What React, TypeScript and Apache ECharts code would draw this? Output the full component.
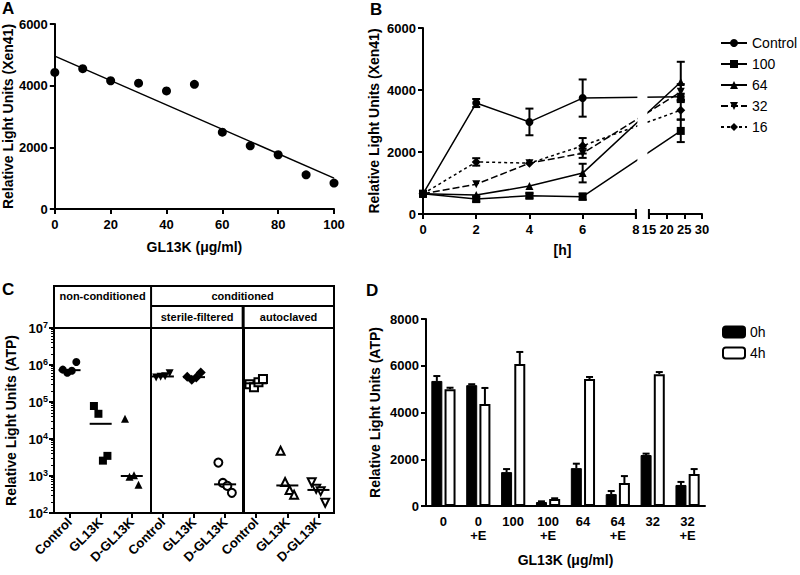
import React, { useEffect, useRef } from "react";
import * as echarts from "echarts";

// ---------- DATA ----------
// Panel A
const A_DOSE = [0, 10, 20, 30, 40, 50, 60, 70, 80, 90, 100];
const A_RLU = [4430, 4550, 4160, 4080, 3830, 4045, 2490, 2050, 1760, 1110, 840];
const A_FIT = [[0, 4960], [100, 1000]];

// Panel B
const B_TIMES = [0, 2, 4, 6, 24];
const B_NAMES = ["Control", "100", "64", "32", "16"];
const B_CONTROL = [650, 3580, 2970, 3740, 3780];
const B_CONTROL_ERR = [0, 130, 430, 600, 100];
const B_100 = [650, 480, 590, 560, 2680];
const B_100_ERR = [0, 80, 80, 100, 360];
const B_64 = [650, 610, 900, 1320, 4260];
const B_64_ERR = [0, 0, 0, 300, 650];
const B_32 = [650, 960, 1640, 1960, 3940];
const B_32_ERR = [0, 0, 0, 150, 250];
const B_16 = [650, 1680, 1640, 2200, 3350];
const B_16_ERR = [0, 120, 0, 250, 300];
const B_TICKS_LEFT = [0, 2, 4, 6, 8];
const B_TICKS_RIGHT = [15, 20, 25, 30];

// Panel C
const C_CATS = ["Control", "GL13K", "D-GL13K", "Control", "GL13K", "D-GL13K", "Control", "GL13K", "D-GL13K"];
const C_NONCOND_CONTROL = [750000, 620000, 700000, 1200000];
const C_NONCOND_GL13K = [78000, 48000, 2600, 3500];
const C_NONCOND_DGL13K = [35000, 950, 1050, 580];
const C_STERILE_CONTROL = [460000, 480000, 500000, 600000];
const C_STERILE_GL13K = [480000, 400000, 460000, 630000];
const C_STERILE_DGL13K = [2300, 650, 540, 350];
const C_AUTO_CONTROL = [300000, 250000, 340000, 420000];
const C_AUTO_GL13K = [4800, 690, 420, 310];
const C_AUTO_DGL13K = [680, 450, 390, 190];
const C_HEADER_TOP = ["non-conditioned", "conditioned"];
const C_HEADER_SUB = ["sterile-filtered", "autoclaved"];

// Panel D
const D_CATS = ["0", "0\n+E", "100", "100\n+E", "64", "64\n+E", "32", "32\n+E"];
const D_0H = [5350, 5170, 1450, 170, 1620, 510, 2180, 900];
const D_0H_ERR = [210, 40, 130, 30, 190, 130, 60, 130];
const D_4H = [5000, 4360, 6070, 300, 5430, 980, 5640, 1370];
const D_4H_ERR = [60, 690, 520, 30, 90, 300, 90, 210];

// ---------- LAYOUT ----------
const FONT = "'Liberation Sans', Arial, Helvetica, sans-serif";
const GA = { left: 54, top: 24, width: 280, height: 185 };
const GB = { left: 423, top: 28, width: 279, height: 186 };
const GC = { left: 54, top: 328, width: 280, height: 185 };
const GD = { left: 426, top: 319, width: 279, height: 187 };

// broken time axis for panel B
const B_GAP = 0.49;
const B_RATIO = 0.133;
const tx = (t: number) => (t <= 8 ? t : 8 + B_GAP + (t - 15) * B_RATIO);
const B_MAX = tx(30);
const B_UNIT = GB.width / B_MAX;

// panel C separators (in category units from left edge)
const C_SEP = [3.12, 6.08];
const C_CW = GC.width / 9;
const C_HEAD_TOP = 286;
const C_HEAD_MID = 306;

const BAR_W = 11;
const BAR_OFF = (BAR_W * 1.2) / 2;

const plain = (v: number) => String(v);
const axisLineStyle = { lineStyle: { color: "#000", width: 2 } };
const axisTickStyle = { length: 5, lineStyle: { color: "#000", width: 2 } };
const labelStyle = { color: "#000", fontWeight: "bold" as const, fontSize: 13, fontFamily: FONT };
const nameStyle = { color: "#000", fontWeight: "bold" as const, fontSize: 14, fontFamily: FONT };

function median(arr: number[]) {
  const s = [...arr].sort((a, b) => a - b);
  const n = s.length;
  return n % 2 ? s[(n - 1) / 2] : (s[n / 2 - 1] + s[n / 2]) / 2;
}

function buildOption() {
  const bSeriesVals = [B_CONTROL, B_100, B_64, B_32, B_16];
  const bErrs = [B_CONTROL_ERR, B_100_ERR, B_64_ERR, B_32_ERR, B_16_ERR];
  const bSymbols = ["circle", "rect", "triangle", "triangle", "diamond"];
  const bRot = [0, 0, 0, 180, 0];
  const bSize = [8, 8, 8, 8, 9];
  const bDash: any[] = ["solid", "solid", "solid", [7, 3], [3, 3]];

  const bLines = B_NAMES.map((name, k) => ({
    name,
    type: "line",
    xAxisIndex: 1,
    yAxisIndex: 1,
    data: B_TIMES.map((t, i) => [tx(t), bSeriesVals[k][i]]),
    symbol: bSymbols[k],
    symbolRotate: bRot[k],
    symbolSize: bSize[k],
    showAllSymbol: true,
    itemStyle: { color: "#000", opacity: 1 },
    lineStyle: { color: "#000", width: 1.5, type: bDash[k] },
    z: 3,
  }));

  const bErrData: number[][] = [];
  bSeriesVals.forEach((vals, k) =>
    vals.forEach((v, i) => {
      if (bErrs[k][i] > 0) bErrData.push([tx(B_TIMES[i]), v, bErrs[k][i]]);
    })
  );

  const cGroups = [
    C_NONCOND_CONTROL, C_NONCOND_GL13K, C_NONCOND_DGL13K,
    C_STERILE_CONTROL, C_STERILE_GL13K, C_STERILE_DGL13K,
    C_AUTO_CONTROL, C_AUTO_GL13K, C_AUTO_DGL13K,
  ];
  const cSym = ["circle", "rect", "triangle", "triangle", "diamond", "circle", "rect", "triangle", "triangle"];
  const cRot = [0, 0, 0, 180, 0, 0, 0, 0, 180];
  const cOpen = [false, false, false, false, false, true, true, true, true];

  const cSeries = cGroups.map((vals, g) => ({
    type: "scatter",
    xAxisIndex: 4,
    yAxisIndex: 4,
    symbol: cSym[g],
    symbolRotate: cRot[g],
    symbolSize: cSym[g] === "diamond" ? 10 : 8,
    itemStyle: cOpen[g]
      ? { color: "#fff", borderColor: "#000", borderWidth: 2, opacity: 1 }
      : { color: "#000", opacity: 1 },
    data: vals.map((v, j) => ({
      value: [g + 0.5, v],
      symbolOffset: [(j - (vals.length - 1) / 2) * 4.5, 0],
    })),
    z: 3,
  }));

  const cMedian = {
    type: "scatter",
    xAxisIndex: 4,
    yAxisIndex: 4,
    symbol: "rect",
    symbolSize: [22, 2],
    itemStyle: { color: "#000", opacity: 1 },
    data: cGroups.map((vals, g) => [g + 0.5, median(vals)]),
    z: 4,
    markLine: {
      silent: true,
      symbol: "none",
      label: { show: false },
      data: [
        { xAxis: C_SEP[0], lineStyle: { color: "#000", width: 2, type: "solid" } },
        { xAxis: C_SEP[1], lineStyle: { color: "#000", width: 3, type: "solid" } },
      ],
    },
  };

  const sep1 = GC.left + C_SEP[0] * C_CW;
  const sep2 = GC.left + C_SEP[1] * C_CW;
  const cRight = GC.left + GC.width;
  const hStroke = { stroke: "#000", lineWidth: 2, fill: "none" };
  const hText = (text: string, x: number, y: number) => ({
    type: "text",
    x,
    y,
    style: {
      text,
      fontSize: 11,
      fontWeight: "bold",
      fontFamily: FONT,
      fill: "#000",
      align: "center",
      verticalAlign: "middle",
    },
  });
  const letter = (text: string, x: number, y: number) => ({
    type: "text",
    x,
    y,
    style: { text, fontSize: 17, fontWeight: "bold", fontFamily: FONT, fill: "#000" },
  });

  return {
    animation: false,
    backgroundColor: "#fff",
    textStyle: { fontFamily: FONT },
    grid: [
      { ...GA },
      { ...GB },
      { left: GB.left, top: GB.top, height: GB.height, width: tx(8) * B_UNIT },
      { left: GB.left + tx(15) * B_UNIT, top: GB.top, height: GB.height, width: (tx(30) - tx(15)) * B_UNIT },
      { ...GC, show: true, borderColor: "#000", borderWidth: 2, backgroundColor: "transparent" },
      { ...GD },
    ],
    xAxis: [
      {
        gridIndex: 0, type: "value", min: 0, max: 100, interval: 20,
        axisLine: axisLineStyle, axisTick: axisTickStyle, axisLabel: { ...labelStyle, margin: 9, formatter: plain },
        splitLine: { show: false },
        name: "GL13K (μg/ml)", nameLocation: "middle", nameGap: 31, nameTextStyle: nameStyle,
      },
      {
        gridIndex: 1, type: "value", min: 0, max: B_MAX,
        axisLine: { show: false }, axisTick: { show: false }, axisLabel: { show: false },
        splitLine: { show: false },
        name: "[h]", nameLocation: "middle", nameGap: 29, nameTextStyle: nameStyle,
      },
      {
        gridIndex: 2, type: "value", min: 0, max: 8, interval: 2,
        axisLine: axisLineStyle, axisTick: axisTickStyle, axisLabel: { ...labelStyle, margin: 9, customValues: B_TICKS_LEFT, formatter: plain },
        splitLine: { show: false },
      },
      {
        gridIndex: 3, type: "value", min: 15, max: 30, interval: 5,
        axisLine: axisLineStyle, axisTick: axisTickStyle, axisLabel: { ...labelStyle, margin: 9, customValues: B_TICKS_RIGHT, formatter: plain },
        splitLine: { show: false },
      },
      {
        gridIndex: 4, type: "value", min: 0, max: 9,
        axisLine: axisLineStyle,
        axisTick: { ...axisTickStyle, customValues: C_CATS.map((_, i) => i + 0.5) },
        axisLabel: {
          ...labelStyle, rotate: 45, margin: 7,
          customValues: C_CATS.map((_, i) => i + 0.5),
          formatter: (v: number) => C_CATS[Math.round(v - 0.5)] ?? "",
        },
        splitLine: { show: false },
      },
      {
        gridIndex: 5, type: "category", data: D_CATS,
        axisLine: axisLineStyle,
        axisTick: { ...axisTickStyle, alignWithLabel: true },
        axisLabel: { ...labelStyle, margin: 8, lineHeight: 14, interval: 0 },
        splitLine: { show: false },
        name: "GL13K (μg/ml)", nameLocation: "middle", nameGap: 47, nameTextStyle: nameStyle,
      },
    ],
    yAxis: [
      {
        gridIndex: 0, type: "value", min: 0, max: 6000, interval: 2000,
        axisLine: { show: true, ...axisLineStyle }, axisTick: { show: true, ...axisTickStyle },
        axisLabel: { ...labelStyle, margin: 7, formatter: plain }, splitLine: { show: false },
        name: "Relative Light Units (Xen41)", nameLocation: "middle", nameGap: 38, nameTextStyle: nameStyle,
      },
      {
        gridIndex: 1, type: "value", min: 0, max: 6000, interval: 2000,
        axisLine: { show: true, ...axisLineStyle }, axisTick: { show: true, ...axisTickStyle },
        axisLabel: { ...labelStyle, margin: 7, formatter: plain }, splitLine: { show: false },
        name: "Relative Light Units (Xen41)", nameLocation: "middle", nameGap: 42, nameTextStyle: nameStyle,
      },
      { gridIndex: 2, type: "value", min: 0, max: 1, show: false },
      { gridIndex: 3, type: "value", min: 0, max: 1, show: false },
      {
        gridIndex: 4, type: "log", logBase: 10, min: 100, max: 10000000,
        axisLine: { show: true, ...axisLineStyle }, axisTick: { show: true, ...axisTickStyle },
        minorTick: { show: true, splitNumber: 9, length: 3, lineStyle: { color: "#000", width: 1 } },
        axisLabel: {
          margin: 6,
          formatter: (v: number) => `{b|10}{s|${Math.round(Math.log10(v))}}`,
          rich: {
            b: { fontSize: 13, fontWeight: "bold", fontFamily: FONT, color: "#000" },
            s: { fontSize: 9, fontWeight: "bold", fontFamily: FONT, color: "#000", verticalAlign: "top", padding: [0, 0, 6, 0] },
          },
        },
        splitLine: { show: false },
        name: "Relative Light Units (ATP)", nameLocation: "middle", nameGap: 36, nameTextStyle: nameStyle,
      },
      {
        gridIndex: 5, type: "value", min: 0, max: 8000, interval: 2000,
        axisLine: { show: true, ...axisLineStyle }, axisTick: { show: true, ...axisTickStyle },
        axisLabel: { ...labelStyle, margin: 7, formatter: plain }, splitLine: { show: false },
        name: "Relative Light Units (ATP)", nameLocation: "middle", nameGap: 44, nameTextStyle: nameStyle,
      },
    ],
    legend: [
      {
        data: B_NAMES, orient: "vertical", left: 720, top: 36, padding: 0,
        itemWidth: 26, itemHeight: 10, itemGap: 7,
        textStyle: { fontSize: 14, color: "#000", fontFamily: FONT },
        selectedMode: false,
      },
      {
        data: ["0h", "4h"], orient: "vertical", left: 722, top: 325, padding: 0,
        itemWidth: 22, itemHeight: 11, itemGap: 7,
        textStyle: { fontSize: 14, color: "#000", fontFamily: FONT },
        selectedMode: false,
      },
    ],
    graphic: [
      letter("A", 2, 0),
      letter("B", 370, 1),
      letter("C", 2, 281),
      letter("D", 366, 282),
      { type: "rect", shape: { x: GC.left, y: C_HEAD_TOP, width: GC.width, height: GC.top - C_HEAD_TOP }, style: hStroke },
      { type: "line", shape: { x1: sep1, y1: C_HEAD_TOP, x2: sep1, y2: GC.top }, style: hStroke },
      { type: "line", shape: { x1: sep1, y1: C_HEAD_MID, x2: cRight, y2: C_HEAD_MID }, style: hStroke },
      { type: "line", shape: { x1: sep2, y1: C_HEAD_MID, x2: sep2, y2: GC.top }, style: { ...hStroke, lineWidth: 3 } },
      hText(C_HEADER_TOP[0], (GC.left + sep1) / 2, (C_HEAD_TOP + C_HEAD_MID) / 2),
      hText(C_HEADER_TOP[1], (sep1 + cRight) / 2, (C_HEAD_TOP + C_HEAD_MID) / 2),
      hText(C_HEADER_SUB[0], (sep1 + sep2) / 2, (C_HEAD_MID + GC.top) / 2),
      hText(C_HEADER_SUB[1], (sep2 + cRight) / 2, (C_HEAD_MID + GC.top) / 2),
    ],
    series: [
      // Panel A
      {
        type: "scatter", xAxisIndex: 0, yAxisIndex: 0,
        data: A_DOSE.map((d, i) => [d, A_RLU[i]]),
        symbolSize: 9, itemStyle: { color: "#000", opacity: 1 }, z: 3,
      },
      {
        type: "line", xAxisIndex: 0, yAxisIndex: 0, data: A_FIT,
        symbol: "none", lineStyle: { color: "#000", width: 1.5 }, z: 2,
      },
      // Panel B
      ...bLines,
      {
        type: "custom", xAxisIndex: 1, yAxisIndex: 1, z: 5,
        data: [[tx(8), tx(15)]],
        encode: { x: [0, 1] },
        renderItem: (params: any, api: any) => {
          const a = api.coord([api.value(0), 6000]);
          const b = api.coord([api.value(1), 150]);
          const a0 = api.coord([api.value(0), 0]);
          const b0 = api.coord([api.value(1), 0]);
          return {
            type: "group",
            children: [
              { type: "rect", shape: { x: a[0] + 1.5, y: a[1], width: b[0] - a[0] - 3, height: b[1] - a[1] }, style: { fill: "#fff" } },
              { type: "line", shape: { x1: a0[0], y1: a0[1] - 5, x2: a0[0], y2: a0[1] + 5 }, style: { stroke: "#000", lineWidth: 2 } },
              { type: "line", shape: { x1: b0[0], y1: b0[1] - 5, x2: b0[0], y2: b0[1] + 5 }, style: { stroke: "#000", lineWidth: 2 } },
            ],
          };
        },
      },
      {
        type: "custom", xAxisIndex: 1, yAxisIndex: 1, z: 6,
        data: bErrData,
        encode: { x: 0, y: 1 },
        renderItem: (params: any, api: any) => {
          const x = api.value(0), y = api.value(1), e = api.value(2);
          const t = api.coord([x, y + e]);
          const b = api.coord([x, y - e]);
          const cap = 4;
          const st = { stroke: "#000", lineWidth: 2 };
          return {
            type: "group",
            children: [
              { type: "line", shape: { x1: t[0], y1: t[1], x2: b[0], y2: b[1] }, style: st },
              { type: "line", shape: { x1: t[0] - cap, y1: t[1], x2: t[0] + cap, y2: t[1] }, style: st },
              { type: "line", shape: { x1: b[0] - cap, y1: b[1], x2: b[0] + cap, y2: b[1] }, style: st },
            ],
          };
        },
      },
      // Panel C
      ...cSeries,
      cMedian,
      // Panel D
      {
        name: "0h", type: "bar", xAxisIndex: 5, yAxisIndex: 5, data: D_0H,
        barWidth: BAR_W, barGap: "20%",
        itemStyle: { color: "#000", borderColor: "#000", borderWidth: 1 },
      },
      {
        name: "4h", type: "bar", xAxisIndex: 5, yAxisIndex: 5, data: D_4H,
        barWidth: BAR_W, barGap: "20%",
        itemStyle: { color: "#fff", borderColor: "#000", borderWidth: 2 },
      },
      {
        type: "custom", xAxisIndex: 5, yAxisIndex: 5, z: 4,
        data: [
          ...D_0H.map((v, i) => [i, v, D_0H_ERR[i], 0]),
          ...D_4H.map((v, i) => [i, v, D_4H_ERR[i], 1]),
        ],
        encode: { x: 0, y: 1 },
        renderItem: (params: any, api: any) => {
          const i = api.value(0), v = api.value(1), e = api.value(2), s = api.value(3);
          const off = s === 0 ? -BAR_OFF : BAR_OFF;
          const t = api.coord([i, v + e]);
          const b = api.coord([i, v]);
          const st = { stroke: "#000", lineWidth: 2 };
          return {
            type: "group",
            children: [
              { type: "line", shape: { x1: t[0] + off, y1: t[1], x2: b[0] + off, y2: b[1] }, style: st },
              { type: "line", shape: { x1: t[0] + off - 3.5, y1: t[1], x2: t[0] + off + 3.5, y2: t[1] }, style: st },
            ],
          };
        },
      },
    ],
  };
}

export default function App() {
  const ref = useRef<HTMLDivElement>(null);
  useEffect(() => {
    if (!ref.current) return;
    const chart = echarts.init(ref.current, null, { renderer: "svg" });
    chart.setOption(buildOption() as any);
    return () => chart.dispose();
  }, []);
  return (
    <div
      ref={ref}
      style={{ position: "absolute", left: 0, top: 0, width: 800, height: 575, background: "#fff" }}
    />
  );
}
